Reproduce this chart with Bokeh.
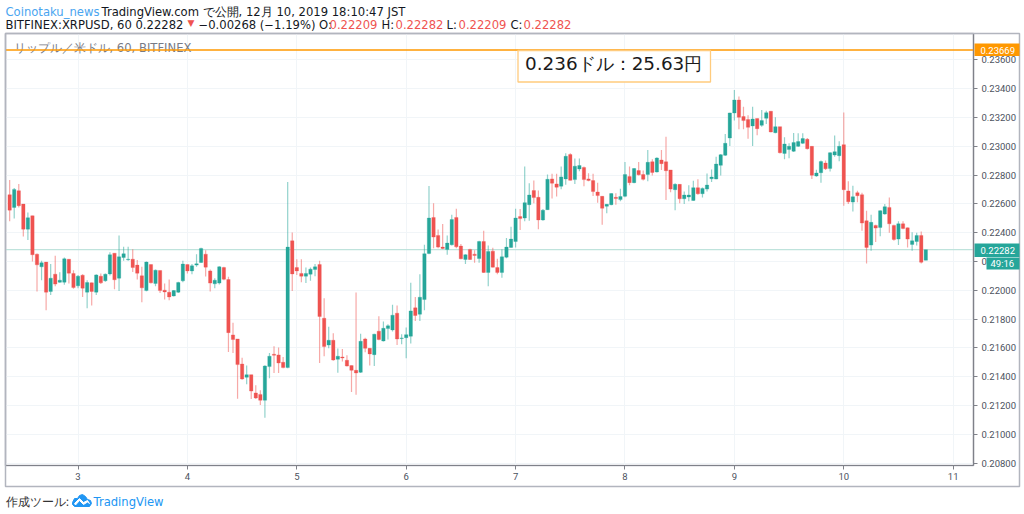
from bokeh.plotting import figure
from bokeh.embed import file_html
from bokeh.resources import INLINE
from bokeh.layouts import column
from bokeh.models import (ColumnDataSource, FixedTicker, Range1d, Label, BoxAnnotation, Span,
                          PrintfTickFormatter, PolyAnnotation)

# Hourly XRP/USD candles in units of 0.00001 USD; first candle is day 2, 09:00
tops = [22664,22701,22692,22599,22504,22518,22251,22191,22196,22084,22112,22070,22219,22216,22117,22098,22105,22054,22052,22107,22098,22112,22247,22258,22233,22254,22216,22216,22175,22101,22196,22179,22140,22138,22001,21987,21998,22054,22182,22179,22170,22184,22291,22251,22135,22070,22163,22158,22075,21690,21662,21488,21414,21414,21287,21277,21474,21542,21556,21551,21500,22300,22344,22158,22117,22117,22147,22163,22179,21806,21653,21653,21542,21537,21514,21477,21444,21646,21662,21597,21695,21716,21736,21753,21827,21841,21669,21692,21857,21878,21952,22254,22502,22506,22381,22300,22328,22492,22506,22307,22247,22284,22251,22339,22339,22270,22272,22158,22233,22300,22356,22502,22512,22609,22662,22693,22646,22556,22771,22774,22739,22788,22931,22943,22862,22867,22853,22774,22762,22683,22653,22598,22672,22646,22651,22804,22790,22846,22832,22804,22889,22893,22919,22905,22893,22836,22736,22736,22662,22662,22713,22713,22708,22731,22787,22877,22942,23021,23232,23322,23322,23207,23186,23190,23193,23179,23234,23244,23137,23137,23016,23000,23026,23033,23054,23049,23000,22815,22894,22884,22956,22963,23000,23012,22690,22650,22678,22664,22483,22472,22451,22553,22581,22576,22451,22462,22462,22434,22344,22381,22381,22282]
bottoms = [22557,22576,22588,22425,22425,22247,22177,22163,21987,21992,22043,22056,22056,22119,22019,22031,22015,21987,21992,21987,22052,22066,22114,22073,22084,22228,22212,22158,22119,22017,21998,22052,22047,21998,21989,21954,21961,21987,22066,22135,22135,22175,22193,22161,22050,22045,22050,22077,21706,21658,21484,21384,21396,21300,21252,21236,21236,21470,21549,21495,21463,21463,22114,22135,22098,22098,22112,22145,21818,21609,21620,21516,21521,21530,21474,21444,21426,21430,21597,21558,21553,21658,21648,21734,21725,21662,21665,21671,21681,21825,21834,21936,22256,22370,22300,22291,22284,22316,22302,22219,22214,22214,22242,22221,22124,22124,22161,22124,22124,22230,22298,22339,22498,22502,22595,22644,22489,22489,22560,22744,22716,22723,22774,22764,22769,22843,22769,22762,22686,22658,22570,22584,22595,22637,22630,22653,22748,22748,22802,22771,22805,22819,22822,22880,22831,22703,22699,22636,22636,22648,22624,22671,22671,22703,22775,22773,22868,22938,23058,23232,23202,23179,23132,23142,23123,23146,23195,23100,23095,22956,22951,22979,22966,23000,23021,22984,22799,22794,22817,22845,22847,22940,22935,22699,22615,22613,22657,22467,22298,22314,22432,22437,22530,22462,22353,22356,22430,22356,22319,22339,22195,22209]
highs = [22766,22710,22738,22599,22541,22518,22256,22205,22196,22182,22240,22126,22228,22216,22140,22107,22112,22070,22054,22112,22117,22117,22265,22258,22381,22302,22302,22286,22210,22163,22200,22179,22145,22138,22047,22075,22003,22059,22205,22179,22182,22251,22295,22279,22145,22084,22168,22163,22094,21774,21662,21532,21477,21414,21340,21305,21479,21565,21611,21602,21537,22752,22402,22216,22216,22158,22158,22182,22205,21945,21746,21702,21595,21593,21549,21477,21985,21699,21671,21597,21699,21820,21783,21764,21899,21894,21695,21741,22052,21954,22112,22316,22724,22604,22423,22460,22381,22525,22567,22321,22251,22288,22279,22344,22414,22312,22295,22219,22286,22363,22441,22567,22565,22860,22744,22762,22693,22565,22804,22809,22809,22860,22952,22952,22915,22915,22860,22813,22809,22748,22655,22600,22674,22674,22706,22892,22860,22850,22892,22832,22975,22910,22924,22975,23067,22836,22743,22736,22687,22729,22761,22771,22715,22812,22840,22928,22947,23086,23234,23392,23346,23276,23216,23276,23193,23253,23248,23244,23202,23137,23063,23021,23093,23091,23091,23058,23000,22838,22901,22901,22959,23075,23035,23235,22757,22727,22692,22678,22553,22525,22455,22557,22599,22645,22455,22479,22479,22437,22404,22400,22409,22282]
lows = [22479,22499,22576,22374,22349,22200,21992,22070,21862,21968,22029,22052,22038,22047,22010,22015,21954,21876,21894,21968,22043,22059,22103,22008,21996,22205,22205,22128,22075,21917,21994,22047,22029,21982,21936,21931,21957,21982,22056,22117,22112,22163,22189,22096,21992,22015,22040,22070,21572,21565,21247,21379,21347,21245,21245,21203,21115,21389,21426,21426,21458,21458,21996,22107,22056,22050,22066,22098,21495,21542,21597,21511,21428,21505,21470,21294,21275,21426,21569,21477,21474,21653,21644,21658,21713,21620,21625,21528,21630,21787,21787,21862,22251,22293,22293,22286,22247,22312,22293,22216,22182,22210,22191,22191,22121,22029,22158,22112,22087,22223,22295,22298,22419,22479,22484,22604,22424,22484,22558,22637,22651,22702,22734,22762,22739,22827,22723,22758,22655,22609,22456,22535,22591,22595,22618,22646,22730,22744,22797,22762,22757,22798,22819,22836,22627,22682,22557,22604,22599,22618,22622,22664,22645,22687,22752,22771,22798,22933,23002,23179,23118,23118,23053,23002,23077,23137,23156,23098,23091,22951,22910,22917,22961,22996,23017,22979,22773,22789,22748,22836,22826,22928,22896,22588,22599,22548,22611,22414,22186,22274,22335,22376,22525,22400,22344,22314,22425,22298,22274,22312,22186,22209]
is_up = [0,1,0,0,1,0,0,1,0,1,0,1,1,0,0,1,0,1,0,1,0,1,1,0,1,1,1,0,0,0,1,0,1,0,0,0,1,1,1,0,1,1,1,0,0,1,1,0,0,0,0,0,1,0,0,0,1,1,0,0,0,1,0,0,0,1,1,1,0,0,1,0,1,0,0,0,0,1,0,0,1,0,1,1,1,0,1,1,1,0,1,1,1,0,0,0,1,1,0,0,1,0,0,1,0,1,0,0,1,1,1,1,0,1,1,0,0,1,1,0,0,1,1,0,1,1,0,0,0,0,0,1,1,0,1,1,0,1,0,0,1,0,1,0,0,0,1,0,1,1,1,0,1,1,1,1,1,1,1,1,0,0,0,1,0,1,1,0,1,0,1,1,1,1,1,0,0,1,1,0,1,1,1,0,0,1,0,0,0,1,0,1,1,0,0,1,0,0,1,1,0,1]
first_day = 2
first_hour = 9
price_ticks = [0.208,0.210,0.212,0.214,0.216,0.218,0.220,0.222,0.224,0.226,0.228,0.230,0.232,0.234,0.236]
day_ticks = [3,4,5,6,7,8,9,10,11]
alert_price = 0.23669
last_price = 0.22282

UP = "#26a69a"; DOWN = "#ef5350"; ORANGE = "#ff9800"
FONT = "DejaVu Sans"
n = len(tops)
days = [first_day + (first_hour + i) / 24 for i in range(n)]
src = ColumnDataSource(dict(
    x=days,
    top=[v / 1e5 for v in tops], bottom=[v / 1e5 for v in bottoms],
    high=[v / 1e5 for v in highs], low=[v / 1e5 for v in lows],
    color=[UP if u else DOWN for u in is_up],
))

p = figure(width=1024, height=514, output_backend="svg", toolbar_location=None,
           x_range=Range1d(2.337, 11.186), y_range=Range1d(0.20783, 0.23784),
           y_axis_location="right", min_border_left=5, min_border_right=51,
           min_border_top=33, min_border_bottom=49, background_fill_color="white",
           border_fill_color="white", frame_align=False)
p.outline_line_color = "#b2b5be"
p.outline_line_width = 1.5

p.yaxis.ticker = FixedTicker(ticks=price_ticks)
p.yaxis.formatter = PrintfTickFormatter(format="%.5f")
p.xaxis.ticker = FixedTicker(ticks=day_ticks)
for ax in (p.xaxis[0], p.yaxis[0]):
    ax.axis_line_color = "#7f8189"
    ax.axis_line_width = 1.2
    ax.major_tick_line_color = "#7f8189"
    ax.major_tick_in = 0
    ax.major_tick_out = 4
    ax.minor_tick_line_color = None
    ax.major_label_text_font = "Roboto"
    ax.major_label_text_font_size = "9.5px"
    ax.major_label_text_color = "#4c525e"
p.yaxis.major_label_standoff = 4
p.xaxis.major_label_standoff = 3
p.xgrid.grid_line_color = "#f1f5f8"
p.ygrid.grid_line_color = "#f1f5f8"

p.add_layout(Span(location=last_price, dimension="width", line_color="#bfe3dc", line_width=1.2, level="underlay"))
p.segment("x", "low", "x", "high", source=src, line_color="color", line_alpha=0.5, line_width=1.2)
p.vbar(x="x", width=0.031, top="top", bottom="bottom", source=src, fill_color="color", line_color="color", line_width=0.3)

# transparent sheet over the whole page for everything outside the price pane
sheet = figure(width=1024, height=514, output_backend="svg", toolbar_location=None,
               x_range=Range1d(0, 1024), y_range=Range1d(514, 0), x_axis_type=None, y_axis_type=None,
               min_border=0, background_fill_color=None, border_fill_color=None, frame_align=False)
sheet.outline_line_color = None
sheet.grid.visible = False
sheet.styles = {"margin-top": "-514px"}


def text(x, y, s, color="#131722", size=11.6, font=FONT, target=sheet):
    target.add_layout(Label(x=x, y=y, x_units="canvas", y_units="canvas", text=s, text_color=color,
                            text_font=font, text_font_size=f"{size}px", text_baseline="middle"))


def tag(l, t, r, b, fill=None, line=None, w=1.0):
    sheet.quad(left=[l], right=[r], top=[t], bottom=[b], fill_color=fill, line_color=line, line_width=w)


# watermark under the alert line
text(13, 47, "リップル／米ドル, 60, BITFINEX", color="#787b86", size=11.6, target=p)

# alert line and the note box
p.add_layout(Span(location=alert_price, dimension="width", line_color=ORANGE, line_width=1.5, level="annotation"))
p.add_layout(BoxAnnotation(left=517.5, right=710, top=50, bottom=81.5, left_units="canvas", right_units="canvas",
                           top_units="canvas", bottom_units="canvas", fill_color="white", fill_alpha=1,
                           line_color="#ffcb7d", line_width=1.3, line_alpha=1))
text(524.5, 62.5, "0.236ドル：25.63円", color="#1a1a1a", size=18.4, target=p)

# outer frame of the chart
tag(5, 33, 1019, 486, line="#b2b5be", w=1.5)

# price tags
tag(974, 43, 1019, 55.5, fill=ORANGE)
text(980, 49.5, "0.23669", color="white", size=9.5, font="Roboto")
tag(974, 243, 1019, 256.5, fill=UP)
text(980, 249.5, "0.22282", color="white", size=9.5, font="Roboto")
tag(986, 257, 1019, 269, fill=UP)
text(990, 263, "49:16", color="white", size=9.5, font="Roboto")

# header
text(5, 11.5, "Coinotaku_news", color="#4aa5f0")
text(101, 11.5, "TradingView.com で公開, 12月 10, 2019 18:10:47 JST")
text(5, 24, "BITFINEX:XRPUSD, 60 0.22282")
text(187, 22, "▼", color=DOWN, size=9)
text(198, 24, "−0.00268 (−1.19%) O:")
text(329, 24, "0.22209", color=DOWN)
text(381, 24, "H:")
text(395, 24, "0.22282", color=DOWN)
text(446, 24, "L:")
text(458, 24, "0.22209", color=DOWN)
text(510, 24, "C:")
text(523, 24, "0.22282", color=DOWN)

# footer
text(5, 501, "作成ツール:", color="#333", size=11.6)
sheet.add_layout(PolyAnnotation(
    xs=[72, 74, 77, 79, 82, 85, 87, 90, 91, 89, 74, 72], ys=[502, 498, 498, 495, 494, 496, 499, 500, 503, 506, 506, 504],
    xs_units="canvas", ys_units="canvas", fill_color="#2196f3", fill_alpha=1, line_color="#2196f3", line_alpha=1))
sheet.add_layout(PolyAnnotation(
    xs=[74, 79, 83, 87, 89, 87, 83, 79, 75], ys=[503, 498, 502, 500, 503, 501.5, 504, 500, 504.5],
    xs_units="canvas", ys_units="canvas", fill_color="white", fill_alpha=1, line_color="white", line_alpha=1))
text(93, 501, "TradingView", color="#2196f3", size=11.6)

page = column(p, sheet)
open("out.html", "w").write(file_html(page, INLINE))
